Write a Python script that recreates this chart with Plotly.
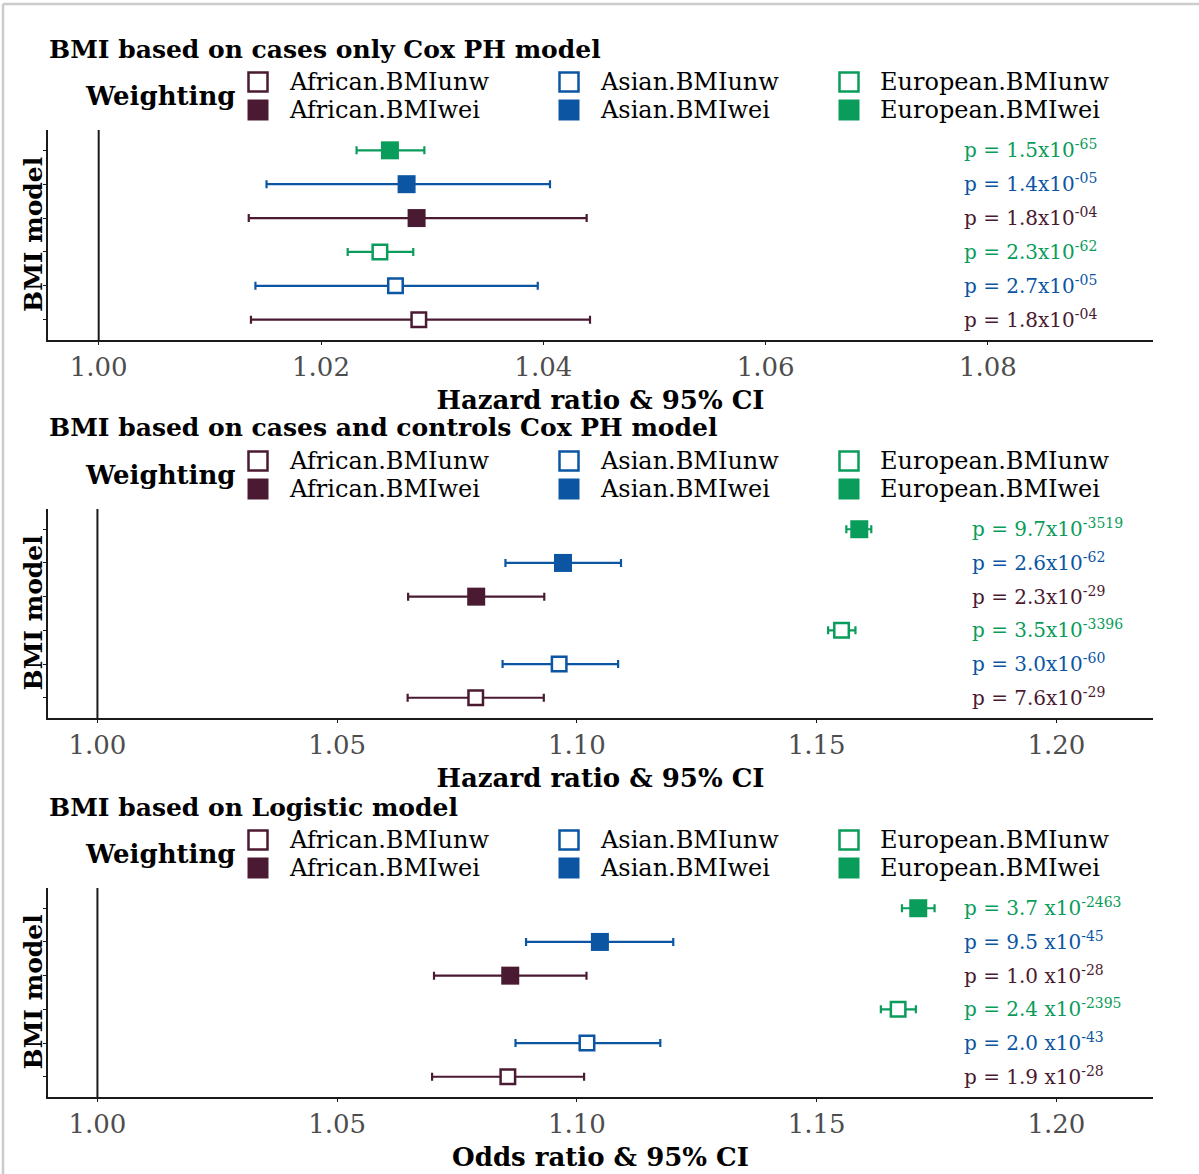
import plotly.graph_objects as go

# ---- data -------------------------------------------------------------
SERIES = ["African.BMIunw", "Asian.BMIunw", "European.BMIunw",
          "African.BMIwei", "Asian.BMIwei", "European.BMIwei"]
COLORS = {"African": "#4a1a32", "Asian": "#0b55a3", "European": "#0a9c5a"}

TITLES = ["BMI based on cases only Cox PH model",
          "BMI based on cases and controls Cox PH model",
          "BMI based on Logistic model"]
X_TITLES = ["Hazard ratio & 95% CI", "Hazard ratio & 95% CI", "Odds ratio & 95% CI"]

# panel 1: cases only, Cox PH
est_1 = [1.0288, 1.0267, 1.0253, 1.0286, 1.0277, 1.0262]
low_1 = [1.0137, 1.0141, 1.0224, 1.0135, 1.0151, 1.0232]
upp_1 = [1.0442, 1.0395, 1.0283, 1.0439, 1.0406, 1.0293]
p_1 = ["p = 1.8x10<sup>-04</sup>", "p = 2.7x10<sup>-05</sup>", "p = 2.3x10<sup>-62</sup>",
       "p = 1.8x10<sup>-04</sup>", "p = 1.4x10<sup>-05</sup>", "p = 1.5x10<sup>-65</sup>"]

# panel 2: cases and controls, Cox PH
est_2 = [1.0789, 1.0963, 1.1552, 1.0790, 1.0971, 1.1589]
low_2 = [1.0647, 1.0845, 1.1524, 1.0648, 1.0851, 1.1562]
upp_2 = [1.0931, 1.1086, 1.1581, 1.0932, 1.1092, 1.1614]
p_2 = ["p = 7.6x10<sup>-29</sup>", "p = 3.0x10<sup>-60</sup>", "p = 3.5x10<sup>-3396</sup>",
       "p = 2.3x10<sup>-29</sup>", "p = 2.6x10<sup>-62</sup>", "p = 9.7x10<sup>-3519</sup>"]

# panel 3: logistic model
est_3 = [1.0856, 1.1021, 1.1670, 1.0861, 1.1048, 1.1712]
low_3 = [1.0698, 1.0872, 1.1634, 1.0702, 1.0894, 1.1678]
upp_3 = [1.1015, 1.1174, 1.1707, 1.1020, 1.1201, 1.1746]
p_3 = ["p = 1.9 x10<sup>-28</sup>", "p = 2.0 x10<sup>-43</sup>", "p = 2.4 x10<sup>-2395</sup>",
       "p = 1.0 x10<sup>-28</sup>", "p = 9.5 x10<sup>-45</sup>", "p = 3.7 x10<sup>-2463</sup>"]

X_RANGES = [[0.99544, 1.09485], [0.98969, 1.22016], [0.98969, 1.22016]]
X_TICKS = [[1.00, 1.02, 1.04, 1.06, 1.08], [1.00, 1.05, 1.10, 1.15, 1.20],
           [1.00, 1.05, 1.10, 1.15, 1.20]]
PANELS = [(est_1, low_1, upp_1, p_1), (est_2, low_2, upp_2, p_2), (est_3, low_3, upp_3, p_3)]

# ---- geometry (pixels) --------------------------------------------------
W, H = 1199, 1174
L, R, T, B = 48, 46, 130, 77
PW, PH = W - L - R, H - T - B
PANEL_PX = [(130, 340), (509, 718), (888, 1097)]   # top / bottom of each plot area
FONT = "DejaVu Serif"
INK = "#1a1a1a"


def px_x(px):
    return (px - L) / PW


def px_y(py):
    return (H - B - py) / PH


fig = go.Figure()
shapes, annotations = [], []
layout = {}

for i, (est, low, upp, ptxt) in enumerate(PANELS):
    n = "" if i == 0 else str(i + 1)
    top, bot = PANEL_PX[i]
    for j, name in enumerate(SERIES):
        group = name.split(".")[0]
        col = COLORS[group]
        weighted = name.endswith("wei")
        fig.add_trace(go.Scatter(
            x=[est[j]], y=[name], mode="markers", name=name, showlegend=False,
            xaxis="x" + n, yaxis="y" + n,
            error_x=dict(type="data", symmetric=False,
                         array=[upp[j] - est[j]], arrayminus=[est[j] - low[j]],
                         color=col, thickness=2.2, width=4),
            marker=dict(symbol="square", size=18 if weighted else 14.5,
                        color=col if weighted else "white",
                        line=dict(color=col, width=0 if weighted else 2.5)),
        ))
        annotations.append(dict(
            xref=f"x{n} domain", yref="y" + n, x=px_x(962 if i != 1 else 970),
            y=name, yshift=1, text=ptxt[j], showarrow=False, xanchor="left",
            yanchor="middle", font=dict(family=FONT, size=20, color=col)))

    layout["xaxis" + n] = dict(
        domain=[0, 1], anchor="y" + n, range=X_RANGES[i], tickvals=X_TICKS[i],
        ticktext=[f"{v:.2f}" for v in X_TICKS[i]], showline=True, linecolor=INK,
        linewidth=2, ticks="outside", ticklen=3, tickcolor=INK, showgrid=False,
        zeroline=False, automargin=False,
        tickfont=dict(family=FONT, size=26, color="#4d4d4d"),
        title=dict(text="<b>" + X_TITLES[i] + "</b>", standoff=10,
                   font=dict(family=FONT, size=26, color="black")))
    layout["yaxis" + n] = dict(
        domain=[px_y(bot), px_y(top)], anchor="x" + n, type="category",
        categoryorder="array", categoryarray=SERIES, range=[-0.6, 5.6],
        showline=True, linecolor=INK, linewidth=2, ticks="outside", ticklen=3,
        tickcolor=INK, showticklabels=False, showgrid=False, zeroline=False,
        automargin=False)

    # y-axis heading, rotated
    annotations.append(dict(xref="paper", yref="paper", x=px_x(33),
                            y=px_y((top + bot) / 2), text="<b>BMI model</b>",
                            textangle=-90, showarrow=False, xanchor="center",
                            yanchor="middle",
                            font=dict(family=FONT, size=25, color="black")))

    # reference line at ratio = 1
    shapes.append(dict(type="line", xref="x" + n, yref=f"y{n} domain", x0=1, x1=1,
                       y0=0, y1=1, line=dict(color=INK, width=2)))

    # panel heading
    annotations.append(dict(xref="paper", yref="paper", x=px_x(47), y=px_y(top - 81),
                            text="<b>" + TITLES[i] + "</b>", showarrow=False,
                            xanchor="left", yanchor="middle",
                            font=dict(family=FONT, size=25, color="black")))
    # legend
    annotations.append(dict(xref="paper", yref="paper", x=px_x(238), y=px_y(top - 34),
                            text="<b>Weighting</b>", showarrow=False,
                            xanchor="right", yanchor="middle",
                            font=dict(family=FONT, size=26, color="black")))
    key_x = {"African": 258, "Asian": 569, "European": 849}
    for name in SERIES:
        group = name.split(".")[0]
        col = COLORS[group]
        weighted = name.endswith("wei")
        cy = top - (20 if weighted else 48)
        cx = key_x[group]
        half = 10.5 if weighted else 9.5
        shapes.append(dict(type="rect", xref="paper", yref="paper",
                           x0=px_x(cx - half), x1=px_x(cx + half),
                           y0=px_y(cy + half), y1=px_y(cy - half),
                           fillcolor=col if weighted else "white",
                           line=dict(color=col, width=0 if weighted else 2.5)))
        annotations.append(dict(xref="paper", yref="paper", x=px_x(cx + 29), y=px_y(cy),
                                text=name, showarrow=False, xanchor="left",
                                yanchor="middle",
                                font=dict(family=FONT, size=24, color="black")))

# light frame along the top and left edges
frame = dict(color="#cccccc", width=2.5)
shapes.append(dict(type="line", xref="paper", yref="paper", x0=px_x(3), x1=px_x(W),
                   y0=px_y(4), y1=px_y(4), line=frame, layer="below"))
shapes.append(dict(type="line", xref="paper", yref="paper", x0=px_x(3), x1=px_x(3),
                   y0=px_y(4), y1=px_y(H), line=frame, layer="below"))

fig.update_layout(
    width=W, height=H, margin=dict(l=L, r=R, t=T, b=B, autoexpand=False),
    paper_bgcolor="white", plot_bgcolor="white", showlegend=False,
    shapes=shapes, annotations=annotations, **layout)

fig.write_html("out.html")
